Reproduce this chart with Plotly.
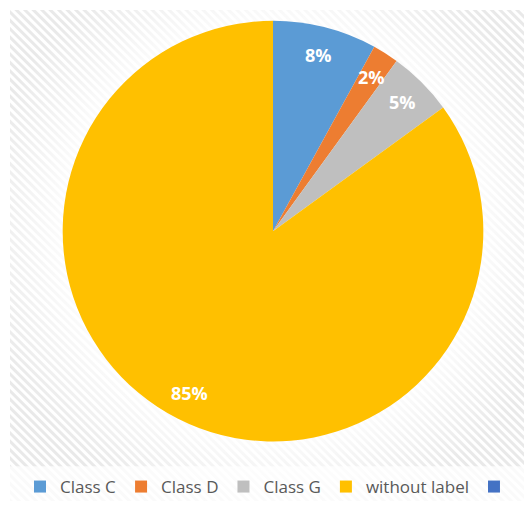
import base64
import numpy as np
import plotly.graph_objects as go

# Share of samples per class
categories = ["Class C", "Class D", "Class G", "without label", " "]
shares = [8, 2, 5, 85, 0]
colors = ["#5B9BD5", "#ED7D31", "#BFBFBF", "#FFC000", "#4472C4"]

W, H = 524, 505
CX, CY, R = 273, 233, 212          # pie centre and radius in pixels
LABEL_R = 0.866 * R                # radius where the percentage labels sit

# Striped chart-area background with a soft white glow round the pie
svg = f"""<svg xmlns='http://www.w3.org/2000/svg' width='{W-10}' height='{H-10}'>
<defs>
<pattern id='st' width='6' height='6' patternUnits='userSpaceOnUse' patternTransform='rotate(45)'>
<rect width='6' height='6' fill='#ffffff'/>
<rect width='6' height='3' fill='#e9e9e9'/>
</pattern>
<radialGradient id='gl' cx='{CX-10}' cy='{CY-10}' r='{R*1.4}' gradientUnits='userSpaceOnUse'>
<stop offset='0' stop-color='#ffffff' stop-opacity='1'/>
<stop offset='0.72' stop-color='#ffffff' stop-opacity='0.8'/>
<stop offset='1' stop-color='#ffffff' stop-opacity='0'/>
</radialGradient>
</defs>
<rect width='100%' height='100%' fill='url(#st)'/>
<rect width='100%' height='100%' fill='url(#gl)'/>
<rect x='0' y='{470-10}' width='100%' height='{H-470}' fill='#ffffff' fill-opacity='0.75'/>
</svg>"""
bg_uri = "data:image/svg+xml;base64," + base64.b64encode(svg.encode()).decode()

fig = go.Figure(
    go.Pie(
        labels=categories,
        values=shares,
        marker=dict(colors=colors, line=dict(width=0)),
        sort=False,
        direction="clockwise",
        rotation=0,
        textinfo="none",
        hoverinfo="label+percent",
        domain=dict(
            x=[(CX - R) / W, (CX + R) / W],
            y=[(H - CY - R) / H, (H - CY + R) / H],
        ),
    )
)

# Percentage labels placed at the mid-angle of each slice
vals = np.array(shares, dtype=float)
ends = np.cumsum(vals) / vals.sum() * 360.0
starts = ends - vals / vals.sum() * 360.0
for v, a0, a1 in zip(shares, starts, ends):
    if v <= 0:
        continue
    mid = np.deg2rad((a0 + a1) / 2)
    px = CX + LABEL_R * np.sin(mid)
    py = CY - LABEL_R * np.cos(mid)
    fig.add_annotation(
        x=px / W, y=1 - py / H, xref="paper", yref="paper",
        text=f"<b>{v}%</b>", showarrow=False,
        font=dict(family="Open Sans", size=18, color="#ffffff"),
        xanchor="center", yanchor="middle",
    )

fig.add_layout_image(
    source=bg_uri, xref="paper", yref="paper",
    x=10 / W, y=1 - 10 / H, sizex=(W - 10) / W, sizey=(H - 10) / H,
    xanchor="left", yanchor="top", sizing="stretch", layer="below",
)

fig.update_layout(
    width=W, height=H,
    margin=dict(l=0, r=0, t=0, b=0),
    paper_bgcolor="#ffffff",
    showlegend=True,
    legend=dict(
        orientation="h", x=0.5 + 15 / W, xanchor="center", y=(H - 491) / H, yanchor="middle",
        font=dict(family="Open Sans", size=17, color="#595959"),
        bgcolor="rgba(0,0,0,0)", itemwidth=30, traceorder="normal",
    ),
)

fig.write_html("out.html")
